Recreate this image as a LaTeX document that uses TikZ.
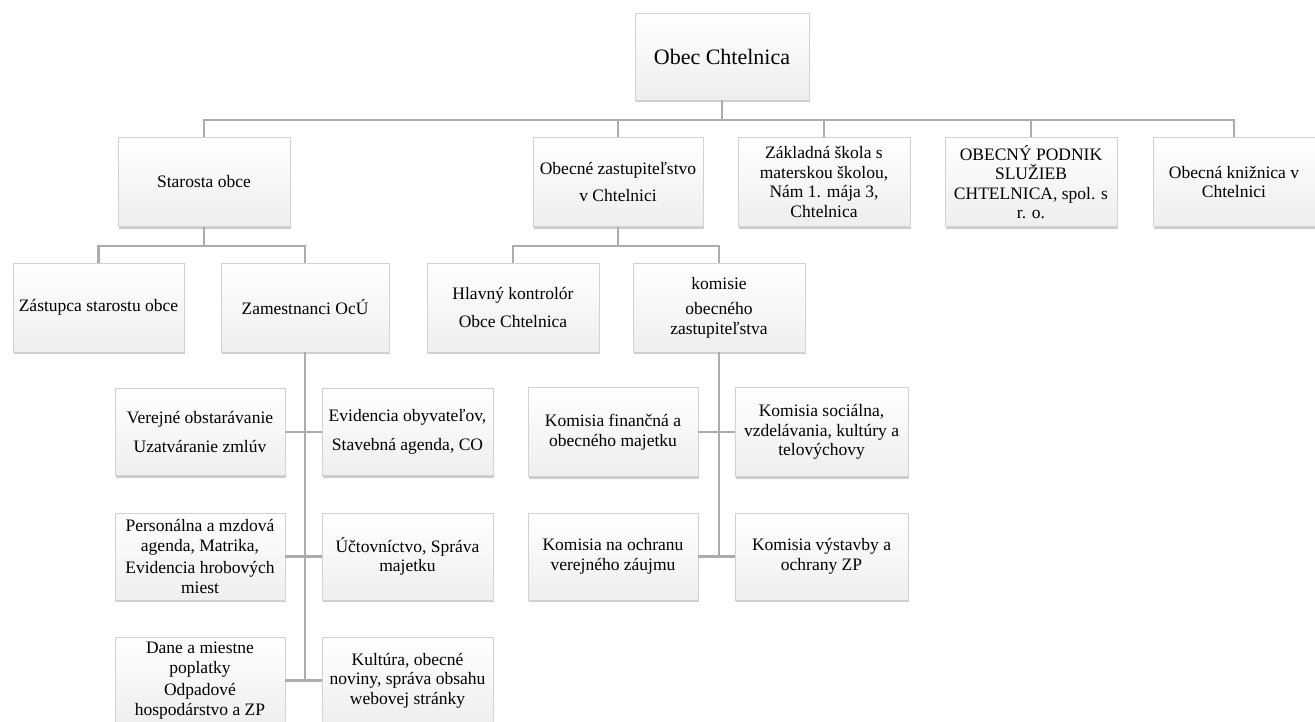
\documentclass[tikz,border=0pt]{standalone}
\usepackage{fontspec}
\setmainfont{Liberation Serif}
\usetikzlibrary{shadows}

\begin{document}
\begin{tikzpicture}[x=1pt,y=-1pt,
	box/.style={rectangle,draw=gray!35,line width=0.6pt,top color=white,bottom color=gray!13,
		drop shadow={shadow xshift=0.5pt,shadow yshift=-2pt,opacity=0.4,fill=gray},
		align=center,font=\fontsize{17.5}{19.5}\selectfont,text=black,inner sep=2pt,
		minimum width=172pt,minimum height=89pt},
	link/.style={draw=gray!65,line width=2.6pt}]
	\useasboundingbox (0,0) rectangle (1315,721);
	
	\node[box,minimum width=174pt,minimum height=87pt,font=\fontsize{22}{24}\selectfont] at (722,56.5) (obec) {Obec Chtelnica};
	
	\node[box] at (204,182) (star) {Starosta obce};
	\node[box,minimum width=170pt] at (618,182) (zast) {Obecné zastupiteľstvo\\[8pt] v Chtelnici};
	\node[box] at (824,182) (zs) {Základná škola s\\ materskou školou,\\ Nám 1. mája 3,\\ Chtelnica};
	\node[box] at (1031,182) (podnik) {OBECNÝ PODNIK\\ SLUŽIEB\\ CHTELNICA, spol. s\\ r. o.};
	\node[box,minimum width=162pt] at (1234,182) (kniz) {Obecná knižnica v\\ Chtelnici};
	
	\node[box,minimum width=171pt] at (98.5,307.5) (zastupca) {Zástupca starostu obce};
	\node[box,minimum width=168pt] at (305,307.5) (zamest) {Zamestnanci OcÚ};
	\node[box] at (513,307.5) (hlavny) {Hlavný kontrolór\\[8pt] Obce Chtelnica};
	\node[box] at (719,307.5) (komisie) {komisie\\[6pt] obecného\\ zastupiteľstva};
	
	\node[box,minimum width=170pt,minimum height=87pt] at (200,432) (verejne) {Verejné obstarávanie\\[10pt] Uzatváranie zmlúv};
	\node[box,minimum width=171pt,minimum height=87pt] at (407.5,432) (evid) {Evidencia obyvateľov,\\[10pt] Stavebná agenda, CO};
	\node[box,minimum width=170pt,minimum height=87pt] at (200,556.5) (personal) {Personálna a mzdová\\ agenda, Matrika,\\[3pt] Evidencia hrobových\\ miest};
	\node[box,minimum width=171pt,minimum height=87pt] at (407.5,556.5) (uctov) {Účtovníctvo, Správa\\ majetku};
	\node[box,minimum width=170pt,minimum height=87pt] at (200,680.5) (dane) {Dane a miestne\\ poplatky\\[3pt] Odpadové\\ hospodárstvo a ZP};
	\node[box,minimum width=171pt,minimum height=87pt] at (407.5,680.5) (kultura) {Kultúra, obecné\\ noviny, správa obsahu\\ webovej stránky};
	
	\node[box,minimum width=170pt,minimum height=89pt] at (613,432) (fin) {Komisia finančná a\\ obecného majetku};
	\node[box,minimum width=173pt,minimum height=89pt] at (821.5,432) (soc) {Komisia sociálna,\\ vzdelávania, kultúry a\\ telovýchovy};
	\node[box,minimum width=170pt,minimum height=87pt] at (613,556.5) (ochrana) {Komisia na ochranu\\ verejného záujmu};
	\node[box,minimum width=173pt,minimum height=87pt] at (821.5,556.5) (vystavba) {Komisia výstavby a\\ ochrany ZP};
	
	% connectors
	\coordinate (bus1) at (722,120);
	\coordinate (bus2) at (204,246);
	\coordinate (bus3) at (618,246);
	\draw[link] (obec) -- (bus1);
	\foreach \n in {star,zast,zs,podnik,kniz}{
		\draw[link] (bus1) -| (\n.north);
	}
	\draw[link] (star) -- (bus2);
	\foreach \n in {zastupca,zamest}{
		\draw[link] (bus2) -| (\n.north);
	}
	\draw[link] (zast) -- (bus3);
	\foreach \n in {hlavny,komisie}{
		\draw[link] (bus3) -| (\n.north);
	}
	
	\draw[link] (zamest.south) -- (zamest.south |- dane.east);
	\foreach \a/\b in {verejne/evid,personal/uctov,dane/kultura}{
		\draw[link] (\a.east) -- (\b.west);
	}
	\draw[link] (komisie.south) -- (komisie.south |- ochrana.east);
	\foreach \a/\b in {fin/soc,ochrana/vystavba}{
		\draw[link] (\a.east) -- (\b.west);
	}
	
\end{tikzpicture}
\end{document}
